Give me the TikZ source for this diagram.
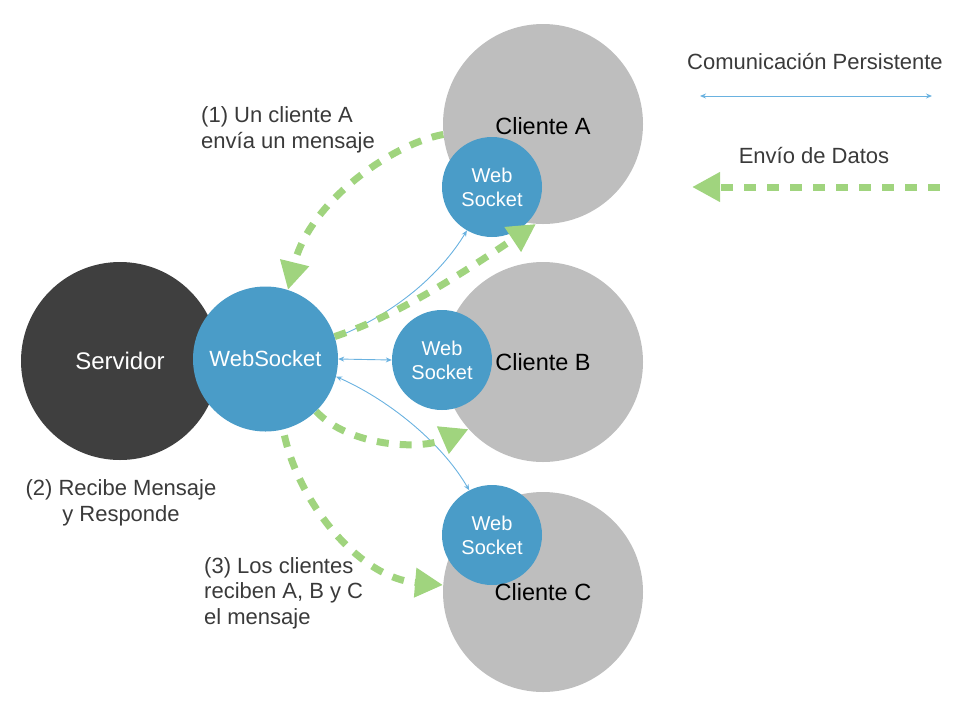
\documentclass[tikz,border=0pt]{standalone}
\usepackage{fontspec}
\setmainfont{Liberation Sans}
\usetikzlibrary{arrows.meta}
\definecolor{srvgray}{HTML}{3F3F3F}
\definecolor{wsblue}{HTML}{4A9CC8}
\definecolor{cligray}{HTML}{BEBEBE}
\definecolor{dgreen}{HTML}{A0D47E}
\definecolor{tblue}{HTML}{6AB2E0}
\definecolor{txt}{HTML}{3A3A3A}
\begin{document}
\begin{tikzpicture}[x=1pt,y=-1pt,
 circ/.style={circle, inner sep=0pt, align=center},
 srv/.style={circ, fill=srvgray, minimum size=198pt, text=white, font=\fontsize{24}{28}\selectfont},
 wsbig/.style={circ, fill=wsblue, minimum size=145pt, text=white, font=\fontsize{22}{26}\selectfont},
 wssmall/.style={circ, fill=wsblue, minimum size=100pt, text=white, font=\fontsize{20}{24}\selectfont},
 cli/.style={circ, fill=cligray, minimum size=200pt},
 cliname/.style={inner sep=0pt, text=black, font=\fontsize{23.5}{27}\selectfont},
 lbl/.style={text=txt, font=\fontsize{22}{25.5}\selectfont, inner sep=0pt},
 persist/.style={draw=tblue, line width=0.9pt, {Stealth[length=6pt,width=5pt]}-{Stealth[length=6pt,width=5pt]}},
 datos/.style={draw=dgreen, line width=7pt, dash pattern=on 12pt off 11pt, -{Triangle[length=28pt,width=28pt]}},
]
\useasboundingbox (0,0) rectangle (956,716);

% server
\node[srv] (srv) at (120,361) {Servidor};
\node[wsbig] (wss) at (265.5,359) {WebSocket};

% clients
\node[cli] (cA) at (543,124) {};
\node[cli] (cB) at (543,362) {};
\node[cli] (cC) at (543,592) {};
\node[wssmall] (wsA) at (492,187) {Web\\Socket};
\node[wssmall] (wsB) at (442,360) {Web\\Socket};
\node[wssmall] (wsC) at (492,535) {Web\\Socket};
\node[cliname] (nA) at (543,126) {Cliente A};
\node[cliname] (nB) at (543,362) {Cliente B};
\node[cliname] (nC) at (543,592) {Cliente C};

% labels
\node[lbl, anchor=west, align=left] (l1) at (201,130) {(1) Un cliente A\\envía un mensaje};
\node[lbl, anchor=center, align=center] (l2) at (121,503) {(2) Recibe Mensaje\\y Responde};
\node[lbl, anchor=west, align=left] (l3) at (204,593) {(3) Los clientes\\reciben A, B y C\\el mensaje};

% persistent connections
\draw[persist] (wss.17) .. controls (395,313) and (440,275) .. (wsA.-120);
\draw[persist] (wss.east) -- (wsB.west);
\draw[persist] (wss.-14) .. controls (385,398) and (440,440) .. (wsC.117);

% data flow
\draw[datos] (cA.186) .. controls (395,143) and (310,200) .. (wss.72);
\draw[datos] (wss.18) .. controls (400,315) and (470,268) .. (cA.-94);
\draw[datos] (wss.-46) .. controls (350,447) and (420,450) .. (cB.222);
\draw[datos, shorten <=6pt] (wss.-76) .. controls (300,505) and (360,578) .. (cC.176);

% legend
\node[lbl] (lg1) at (815,62) {Comunicación Persistente};
\coordinate (p1) at (700,96);
\coordinate (p2) at (932,96);
\draw[persist] (p1) -- (p2);
\node[lbl] (lg2) at (814,156) {Envío de Datos};
\coordinate (d1) at (940,187);
\coordinate (d2) at (692,187);
\draw[datos] (d1) -- (d2);
\end{tikzpicture}
\end{document}
